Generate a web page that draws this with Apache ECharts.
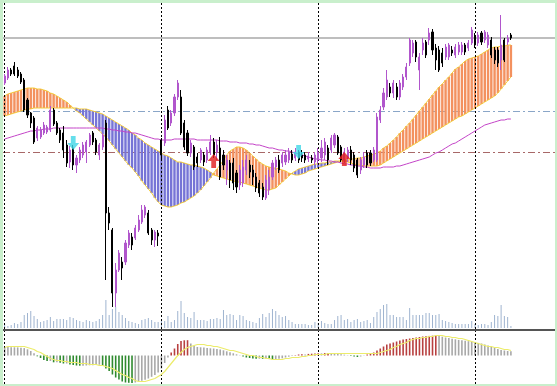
<!DOCTYPE html>
<html>
<head>
<meta charset="utf-8">
<script src="https://cdn.jsdelivr.net/npm/echarts@6/dist/echarts.min.js"></script>
<style>
html,body{margin:0;padding:0;background:#c9efcc;}
#c{width:557px;height:386px;}
</style>
</head>
<body>
<div id="c"></div>
<script>
// ---- data (price units) ----
const slotCount = 169;   // visible bar slots (incl. empty right margin)
const separators = [0, 48, 96, 144];   // day separators (bar index)
const levels = [292, 219, 178];        // bid line, two dash-dot levels

// [open, close, low, high]
const candles = [
[247,254,245,256],[252,260,250,263],[260,256,254,262],[264,256,254,268],[260,254,252,263],
[256,248,246,258],[250,220,218,252],[230,215,212,232],[217,207,202,218],[212,188,186,214],
[192,202,189,204],[193,200,191,203],[197,205,195,208],[198,203,196,205],[200,220,198,224],
[220,206,204,222],[207,197,195,209],[200,190,187,202],[197,180,172,204],[185,167,163,190],
[168,180,162,184],[182,165,160,185],[165,172,157,175],[170,180,167,183],[175,185,172,188],
[178,188,167,190],[185,195,183,197],[197,188,185,199],[190,178,175,192],[175,185,170,187],
[183,195,180,197],[207,117,50,210],[117,107,100,123],[100,37,23,102],[37,60,23,67],
[60,77,58,80],[68,62,50,73],[68,87,65,90],[85,97,82,100],[93,85,80,97],
[92,102,90,105],[100,110,98,115],[108,120,106,125],[115,123,112,125],[117,97,95,120],
[100,90,85,102],[90,98,83,100],[97,94,84,100],[190,175,170,192],[187,210,184,215],
[220,202,200,224],[207,217,204,220],[217,233,214,236],[233,247,230,250],[233,197,195,240],
[207,183,180,210],[197,177,174,200],[177,187,173,190],[183,163,160,185],[173,167,163,177],
[170,180,167,182],[175,168,164,178],[170,180,167,183],[178,188,175,195],[188,175,172,192],
[178,185,170,190],[182,153,150,193],[175,165,160,180],[160,170,145,175],[167,150,142,170],
[167,147,140,172],[157,143,137,160],[145,160,140,165],[147,163,143,170],[160,170,155,175],
[165,158,152,170],[160,153,145,165],[153,142,138,157],[147,137,133,150],[143,133,130,147],
[132,150,130,155],[140,153,135,160],[153,167,150,170],[163,170,160,173],[170,160,157,175],
[167,175,163,178],[168,175,165,180],[170,178,167,182],[176,170,167,180],[172,178,169,182],
[178,170,167,180],[175,172,168,180],[175,170,167,178],[171,174,168,178],[172,170,167,175],
[168,175,165,178],[170,178,166,182],[172,182,168,190],[175,188,170,192],[182,170,165,185],
[180,192,177,195],[185,195,182,197],[193,177,175,195],[183,170,168,185],[170,178,167,182],
[172,180,168,183],[180,170,165,184],[175,162,158,178],[170,155,152,172],[160,170,156,173],
[165,173,162,178],[177,165,162,180],[177,167,164,180],[170,180,168,183],[170,213,168,217],
[210,220,207,224],[223,237,220,242],[233,250,230,260],[243,237,233,247],[237,247,232,250],
[243,233,230,247],[233,247,230,250],[243,253,240,256],[253,263,250,267],[267,290,264,292],
[277,287,273,290],[288,273,268,290],[260,273,240,277],[280,287,275,292],[288,275,272,290],
[290,297,285,302],[298,280,275,301],[282,270,260,286],[280,260,258,284],[277,267,263,282],
[273,283,270,286],[273,285,270,287],[280,277,274,284],[275,283,272,286],[278,285,275,288],
[278,285,275,288],[285,278,275,287],[282,287,279,290],[287,300,285,303],[293,285,282,297],
[287,295,284,298],[297,288,285,299],[290,298,287,300],[285,295,282,298],[290,275,272,293],
[280,270,266,283],[280,267,263,283],[270,285,260,315],[290,270,268,292],[288,292,285,295],
[295,292,290,297]
];

const volumes = [
4,2,3,5,4,6,13,15,17,12, 9,6,7,8,11,7,9,9,9,8, 11,10,8,7,6,8,7,6,7,9,
13,28,13,19,21,16,13,10,7,6, 5,4,8,9,10,8,6,6,7,7, 12,6,8,17,27,15,11,10,16,8,
8,8,7,9,9,10,9,18,13,14, 13,8,13,12,8,7,6,5,10,14, 11,15,19,17,13,11,12,8,6,4,
4,4,4,3,3,6,5,7,5,4, 4,8,12,13,8,9,6,8,9,6, 7,8,5,11,16,19,23,24,13,13,
11,11,11,8,20,13,13,13,13,15, 15,13,13,14,8,7,6,5,4,4, 4,4,4,7,4,3,4,4,3,6,
13,12,23,12,11,2
];

const cloudA = [
234,236,237,238,239,240,241,242,242,242, 241,241,240,239,237,236,234,232,230,228,
225,222,219,217,214,211,208,205,202,199, 196,193,189,185,181,177,173,169,165,162,
158,154,149,145,141,137,132,128,125,124, 123,123,124,125,127,128,130,132,134,137,
140,144,148,152,157,161,165,170,175,179, 181,183,183,182,180,177,174,171,168,166,
164,163,162,162,161,160,159,157,156,155, 155,156,157,159,160,161,162,163,164,165,
166,167,168,169,170,170,171,171,172,172, 173,174,175,176,177,179,182,184,187,190,
193,197,200,204,207,211,215,219,223,227, 231,235,239,243,246,250,253,257,261,263,
266,269,271,272,273,274,276,278,280,282, 283,283,284,284,285,285
];
const cloudB = [
214,215,216,217,218,219,220,221,221,222, 222,222,222,222,222,222,222,222,222,222,
222,222,222,221,221,221,220,219,218,217, 216,214,212,210,208,206,204,202,200,197,
195,192,190,187,185,183,181,179,177,175, 174,172,170,168,168,167,166,165,165,164,
163,162,160,158,155,154,153,152,151,150, 149,148,148,147,146,145,144,143,142,141,
140,140,141,142,145,148,151,154,157,159, 161,162,163,164,165,166,166,167,167,168,
168,169,169,169,169,168,167,166,165,165, 164,164,164,164,164,165,167,169,171,173,
175,177,179,181,183,185,187,189,191,193, 195,197,199,201,203,205,207,209,211,213,
214,216,218,220,222,224,226,228,230,232, 234,237,241,245,249,253
];
const maLine = [
191,192,193,194,195,196,197,198,199,199, 200,200,201,201,201,202,202,202,202,202,
202,202,202,202,202,202,202,202,202,202, 202,201,201,200,200,199,199,198,198,197,
197,196,195,194,193,192,191,191,190,190, 190,190,191,191,191,191,191,191,191,190,
190,190,190,190,190,190,189,189,189,188, 188,188,187,187,187,186,186,185,185,184,
183,182,182,181,180,180,179,179,178,177, 176,175,174,173,172,171,171,170,170,169,
169,168,168,167,166,166,165,165,164,164, 163,163,162,162,162,162,163,163,163,163,
164,164,165,166,167,168,169,170,171,172, 173,175,177,178,180,182,184,186,187,189,
191,193,195,197,199,201,203,205,206,207, 208,209,210,210,211,211
];

const macdHist = [
8.5,8.4,8.3,8.2,8.1,7.8,7.4,6.2,4.5,2.2,
-0.8,-2.5,-4.5,-5.5,-5.5,-6.8,-6.8,-7.2,-8,-8,
-9,-9.5,-10,-10.2,-10.2,-10,-9.8,-9.8,-9.5,-9.2,
-10.5,-13,-15.5,-19,-22,-24,-26,-27,-27.3,-27.4,
-27,-26.2,-25.2,-24.2,-23,-21.3,-19.4,-17,-13,-7.5,
-2,3,7,11.5,14.5,15.2,15.3,12,9.5,8.5,
8.2,8,7.5,7.2,7,6.5,6,5.2,4.2,3.2,
2.2,1.2,0.3,-1,-2,-2.5,-3,-3.2,-3.2,-3.3,
-3.2,-3.6,-3.8,-3.8,-3.2,-2.8,-2,-1.2,-0.6,0.4,
1,1.2,1.1,1.6,1.8,2,2.2,2.1,2.4,2.5,
2.3,2,1.6,1.2,0.8,0.3,-0.6,-1,-1.5,-1,
-0.3,1,2,3,5,7,9,11,12,13,
14,15,16,16.5,17,17.5,18,18.5,19,19.3,
19.6,19.8,20,19.5,18.8,18,17.4,16.8,16.2,15.6,
15.2,14.8,14.3,13.8,13.2,12.6,12,11,10,8.5,
7.5,6.5,5.5,5,4.5,4.2
];
const macdSignal = [
8,9,9,9,9,9,9,8,7,6, 4,3,1,-1,-3,-4,-5,-5,-6,-6,
-7,-7,-7,-8,-8,-8,-9,-9,-9,-10, -10,-11,-12,-13,-15,-17,-19,-20,-22,-23,
-25,-26,-26,-26,-25,-24,-23,-21,-19,-16, -12,-8,-4,0,3,6,8,9,10,11,
11,11,10,10,9,9,8,7,6,5, 5,4,3,2,1,0,0,-1,-2,-2,
-3,-3,-4,-4,-4,-4,-3,-3,-2,-2, -2,-1,-1,0,0,1,1,1,1,2,
2,2,2,2,2,2,2,2,2,2, 2,2,2,2,2,3,4,5,6,8,
9,11,12,13,15,16,17,17,18,18, 19,19,20,20,20,19,19,18,18,17,
17,16,15,14,13,12,11,10,9,9, 8,8,7,6,6,5
];

const arrowsDown = [[21,187],[90,178]];
const arrowsUp = [[64,169],[104,171]];

// ---- chart ----
const slots = Array.from({length: slotCount}, (_, i) => String(i));
const BULL = '#b156cc', BEAR = '#000000';
const ORANGE = '#f3915f', BLUE = '#7674d6', EDGE = '#f4cc3c';

function renderCloud(params, api) {
  const i = api.value(0), a = api.value(1), b = api.value(2);
  const p1 = api.coord([i, a]), p2 = api.coord([i, b]);
  const w = api.size([1, 0])[0] * 0.74;
  const top = Math.min(p1[1], p2[1]);
  const h = Math.max(Math.abs(p2[1] - p1[1]), 0.01);
  return {type: 'rect', shape: {x: p1[0] - w / 2, y: top, width: w, height: h},
          style: {fill: a >= b ? ORANGE : BLUE}};
}

const sepLine = {
  silent: true, symbol: 'none', z: 3, animation: false,
  label: {show: false},
  lineStyle: {color: '#000', type: [2, 2], width: 1},
  data: separators.map(i => ({xAxis: i}))
};

const chart = echarts.init(document.getElementById('c'), null, {renderer: 'canvas'});
const hiddenX = (gi) => ({type: 'category', data: slots, gridIndex: gi, boundaryGap: true, show: false});
chart.setOption({
  animation: false,
  backgroundColor: '#c9efcc',
  graphic: [{type: 'rect', shape: {x: 3, y: 329, width: 552, height: 2}, style: {fill: '#555555'}, z: 10}],
  grid: [
    {left: 3, right: 2, top: 3, height: 326, show: true, backgroundColor: '#ffffff', borderWidth: 0, outerBoundsMode: 'none'},
    {left: 3, right: 2, top: 297, height: 31, show: false, outerBoundsMode: 'none'},
    {left: 3, right: 2, top: 331, height: 53, show: true, backgroundColor: '#ffffff', borderWidth: 0, outerBoundsMode: 'none'}
  ],
  xAxis: [hiddenX(0), hiddenX(1), hiddenX(2)],
  yAxis: [
    {gridIndex: 0, min: 1, max: 327, show: false, splitLine: {show: false}},
    {gridIndex: 1, min: 0, max: 31, show: false, splitLine: {show: false}},
    {gridIndex: 2, min: -28.5, max: 24.5, show: false, splitLine: {show: false}}
  ],
  series: [
    { // horizontal levels
      type: 'line', xAxisIndex: 0, yAxisIndex: 0, data: [], silent: true,
      markLine: {
        silent: true, symbol: 'none', z: 1, animation: false, label: {show: false},
        data: [
          {yAxis: levels[0], lineStyle: {color: '#a8a8a8', type: 'solid', width: 1.5}},
          {yAxis: levels[1], lineStyle: {color: '#8aa6c8', type: [7, 3, 2, 3], width: 1}},
          {yAxis: levels[2], lineStyle: {color: '#a86868', type: [7, 3, 2, 3], width: 1}}
        ]
      }
    },
    {
      type: 'custom', xAxisIndex: 0, yAxisIndex: 0, z: 2, silent: true,
      renderItem: renderCloud,
      encode: {x: 0, y: [1, 2]},
      data: cloudA.map((a, i) => [i, a, cloudB[i]])
    },
    {type: 'line', xAxisIndex: 0, yAxisIndex: 0, z: 2.5, data: cloudA, showSymbol: false, silent: true,
     lineStyle: {color: EDGE, width: 1}},
    {type: 'line', xAxisIndex: 0, yAxisIndex: 0, z: 2.5, data: cloudB, showSymbol: false, silent: true,
     lineStyle: {color: EDGE, width: 1}},
    {type: 'line', xAxisIndex: 0, yAxisIndex: 0, z: 3, data: maLine, showSymbol: false, silent: true,
     lineStyle: {color: '#c444c8', width: 1}, markLine: sepLine},
    {type: 'bar', xAxisIndex: 1, yAxisIndex: 1, z: 2, data: volumes, barWidth: 1, silent: true,
     itemStyle: {color: '#9fb4d0'}},
    {
      type: 'candlestick', xAxisIndex: 0, yAxisIndex: 0, z: 4, data: candles, barWidth: 1.6, silent: true,
      itemStyle: {color: BULL, color0: BEAR, borderColor: BULL, borderColor0: BEAR, borderWidth: 1}
    },
    {type: 'scatter', xAxisIndex: 0, yAxisIndex: 0, z: 6, data: arrowsDown, silent: true,
     symbol: 'path://M3,0 L7,0 L7,6 L10,6 L5,12 L0,6 L3,6 Z', symbolSize: [12, 14],
     itemStyle: {color: '#3fd6e6'}},
    {type: 'scatter', xAxisIndex: 0, yAxisIndex: 0, z: 6, data: arrowsUp, silent: true,
     symbol: 'path://M5,0 L10,6 L7,6 L7,12 L3,12 L3,6 L0,6 Z', symbolSize: [12, 14],
     itemStyle: {color: '#e01c1c'}},
    {
      type: 'bar', xAxisIndex: 2, yAxisIndex: 2, z: 2, data: macdHist, barWidth: 1.6, silent: true,
      itemStyle: {
        color: (p) => {
          const v = macdHist[p.dataIndex];
          const prev = p.dataIndex > 0 ? macdHist[p.dataIndex - 1] : v;
          if (v >= 0) return v > prev ? '#b84040' : '#a8a8a8';
          return v < prev ? '#2f8a2f' : '#a8a8a8';
        }
      }
    },
    {type: 'line', xAxisIndex: 2, yAxisIndex: 2, z: 3, data: macdSignal, showSymbol: false, silent: true,
     lineStyle: {color: '#ecec6a', width: 1.2}, markLine: sepLine}
  ]
});
</script>
</body>
</html>
